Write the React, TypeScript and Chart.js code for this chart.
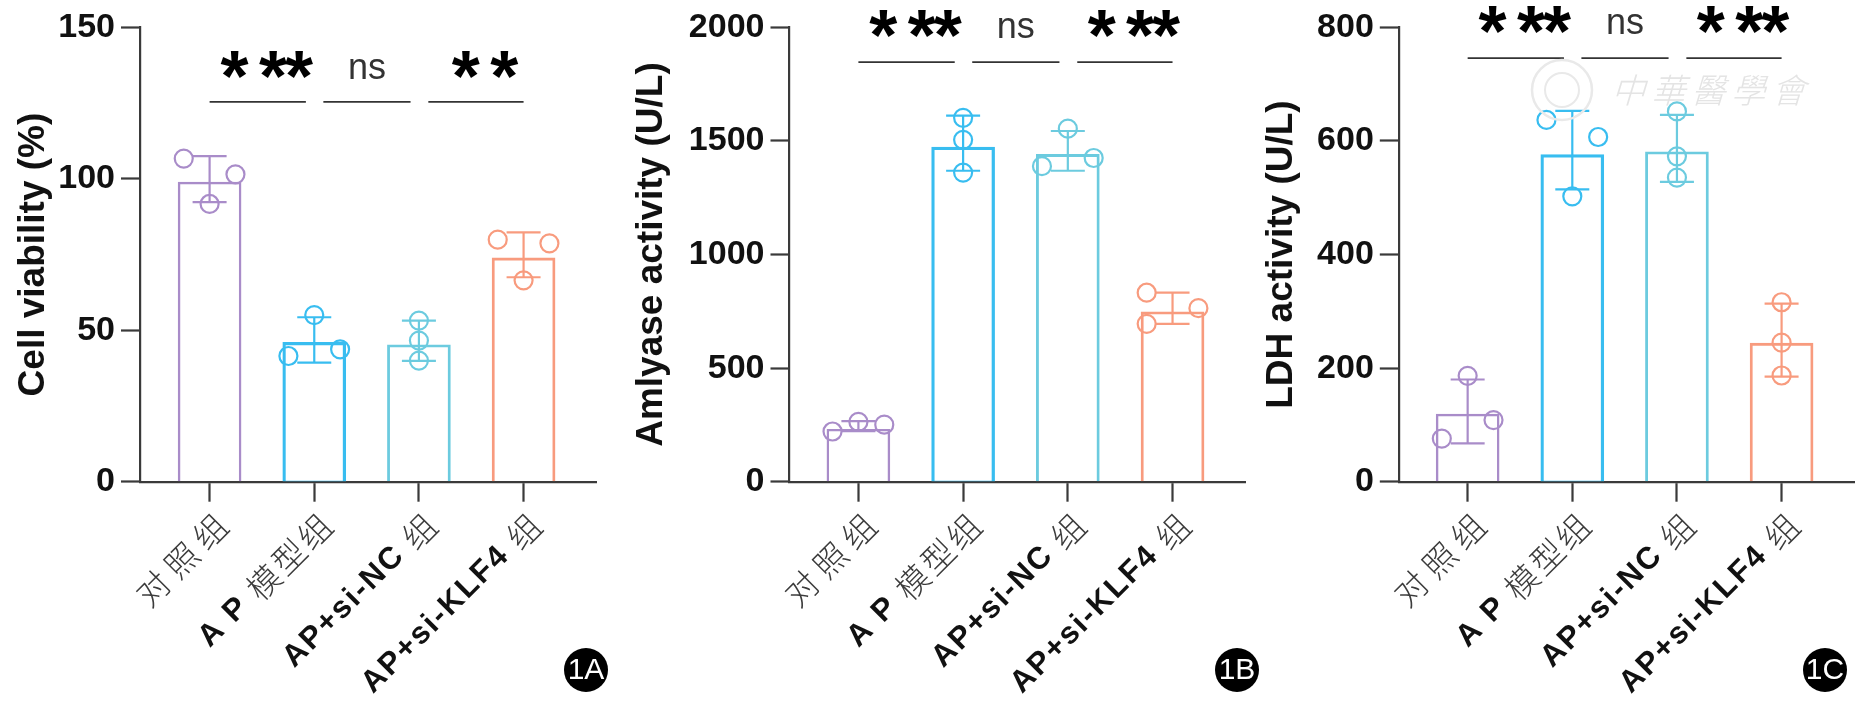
import React, { useEffect, useRef } from "react";
import { Chart, registerables } from "chart.js";

Chart.register(...registerables);

const categories = ["对 照 组", "A P 模型组", "AP+si-NC 组", "AP+si-KLF4 组"];
const groupX = [0, 1, 2, 3];
const groupColors = ["#a98cc9", "#38bdf0", "#6ccbdf", "#f89b7e"];
const barWidths = [1.8, 2.6, 2.2, 2.2];

const meanA = [98.9, 46, 45.2, 73.9];
const upperA = [107.5, 54.3, 53.2, 82.3];
const lowerA = [92.3, 39.3, 39.9, 67.5];
const pointsA = [[106.7, 101.5, 91.7], [55, 41.5, 43.7], [53.2, 46.6, 40], [79.9, 78.7, 66.5]];
const jitterA = [[-0.247, 0.247, 0], [0, -0.247, 0.247], [0, 0, 0], [-0.247, 0.247, 0]];

const meanB = [231, 1473, 1441, 748];
const upperB = [267, 1612, 1544, 832];
const lowerB = [222, 1369, 1369, 695];
const pointsB = [[221, 263, 251], [1602, 1505, 1361], [1554, 1389, 1425], [832, 764, 695]];
const jitterB = [[-0.247, 0, 0.247], [0, 0, 0], [0, -0.247, 0.247], [-0.247, 0.247, -0.247]];

const meanC = [119, 576, 581, 244];
const upperC = [180, 653, 646, 313.6];
const lowerC = [67.5, 514.6, 528, 185];
const pointsC = [[186.5, 76, 108.5], [637, 607, 502.5], [652, 573, 535.5], [316, 245, 187]];
const jitterC = [[0, -0.247, 0.247], [-0.247, 0.247, 0], [0, 0, 0], [0, 0, 0]];

const sigLabelsA = ["*\u2009**", "ns", "*\u2009*"];
const sigLabelsB = ["*\u2009**", "ns", "*\u2009**"];
const sigLabelsC = ["*\u2009**", "ns", "*\u2009**"];
const sigSpans = [[0, 0.92], [1.087, 1.92], [2.09, 3.0]];

const FONT = '"Liberation Sans", Arial, sans-serif';
const CJK = '"Noto Sans CJK SC", sans-serif';
const AXIS = "#3a3a3a";
const CANVAS_W = 650;

type Spec = {
  title: string; max: number; step: number; badge: string;
  mean: number[]; upper: number[]; lower: number[]; points: number[][]; jitter: number[][];
  sig: string[]; sigY: number; sigTextY: number;
  left: number; axisX: number; right: number; xMin: number; xMax: number; titlePad: number;
  badgeX: number; watermark?: boolean;
};

const specs: Spec[] = [
  { title: "Cell viability (%)", max: 150, step: 50, badge: "1A", mean: meanA, upper: upperA, lower: lowerA,
    points: pointsA, jitter: jitterA, sig: sigLabelsA, sigY: 125.4, sigTextY: 136.7,
    left: 0, axisX: 140, right: 54, xMin: -0.665, xMax: 3.692, titlePad: 12, badgeX: 586 },
  { title: "Amlyase activity (U/L)", max: 2000, step: 500, badge: "1B", mean: meanB, upper: upperB, lower: lowerB,
    points: pointsB, jitter: jitterB, sig: sigLabelsB, sigY: 1847, sigTextY: 2000,
    left: 624, axisX: 165.5, right: 29, xMin: -0.658, xMax: 3.692, titlePad: 6, badgeX: 613 },
  { title: "LDH activity (U/L)", max: 800, step: 200, badge: "1C", mean: meanC, upper: upperC, lower: lowerC,
    points: pointsC, jitter: jitterC, sig: sigLabelsC, sigY: 746, sigTextY: 808,
    left: 1248, axisX: 150.8, right: 44, xMin: -0.658, xMax: 3.692, titlePad: 12, badgeX: 577, watermark: true },
];

const isCjk = (r: string) => /[\u4e00-\u9fff]/.test(r);

function drawCategory(ctx: CanvasRenderingContext2D, label: string, x: number, y: number) {
  const runs = label.match(/[\u4e00-\u9fff ]*[\u4e00-\u9fff]|[^\u4e00-\u9fff]+/g) || [];
  const fontOf = (r: string) => (isCjk(r) ? `300 33px ${CJK}` : `bold 31px ${FONT}`);
  const spaceOf = (r: string) => (isCjk(r) ? (r.includes(" ") ? 0 : 3) : 2);
  ctx.save();
  ctx.translate(x, y);
  ctx.rotate((-45 * Math.PI) / 180);
  ctx.textBaseline = "middle";
  ctx.textAlign = "left";
  let total = 0;
  const widths = runs.map((r) => {
    ctx.font = fontOf(r);
    (ctx as any).letterSpacing = `${spaceOf(r)}px`;
    const w = ctx.measureText(r).width;
    total += w;
    return w;
  });
  let cx = -total + spaceOf(runs[runs.length - 1]);
  runs.forEach((r, i) => {
    ctx.font = fontOf(r);
    (ctx as any).letterSpacing = `${spaceOf(r)}px`;
    ctx.fillStyle = isCjk(r) ? "#3c3c3c" : "#111111";
    ctx.fillText(r, cx, 0);
    cx += widths[i];
  });
  ctx.restore();
}

const makeConfig = (s: Spec): any => {
  const bars = {
    type: "bar",
    data: s.mean.map((v, i) => ({ x: groupX[i], y: v })),
    backgroundColor: "rgba(255,255,255,0)",
    borderColor: groupColors,
    borderWidth: barWidths,
    barThickness: 63,
    clip: false,
  };
  const errors = groupX.map((x, i) => ({
    type: "scatter",
    showLine: true,
    data: [{ x, y: s.lower[i] }, { x, y: s.upper[i] }],
    borderColor: groupColors[i],
    borderWidth: 2.2,
    pointStyle: "line",
    pointRadius: 17,
    pointBorderWidth: 2.2,
    pointBorderColor: groupColors[i],
    clip: false,
  }));
  const dots = {
    type: "scatter",
    data: s.points.flatMap((vals, i) => vals.map((v, j) => ({ x: groupX[i] + s.jitter[i][j], y: v }))),
    pointStyle: "circle",
    pointRadius: 9,
    pointBorderWidth: 2.2,
    pointBackgroundColor: "rgba(255,255,255,0)",
    pointBorderColor: s.points.flatMap((vals, i) => vals.map(() => groupColors[i])),
    clip: false,
  };
  const brackets = sigSpans.map(([a, b]) => ({
    type: "scatter",
    showLine: true,
    data: [{ x: a, y: s.sigY }, { x: b, y: s.sigY }],
    borderColor: "#333333",
    borderWidth: 1.8,
    pointRadius: 0,
    clip: false,
  }));

  const textPlugin = {
    id: "panelText",
    afterDraw(chart: any) {
      const { ctx } = chart;
      const xs = chart.scales.x;
      const ys = chart.scales.y;
      const axisY = ys.getPixelForValue(0);
      categories.forEach((c, i) => drawCategory(ctx, c, xs.getPixelForValue(groupX[i]) + 12, axisY + 38));

      ctx.save();
      ctx.textAlign = "center";
      s.sig.forEach((t, i) => {
        const [a, b] = sigSpans[i];
        const cx = (xs.getPixelForValue(a) + xs.getPixelForValue(b)) / 2;
        const isNs = t === "ns";
        ctx.textBaseline = isNs ? "middle" : "alphabetic";
        ctx.font = isNs ? `normal 36px ${FONT}` : `bold 72px ${FONT}`;
        (ctx as any).letterSpacing = isNs ? "0px" : "-2px";
        ctx.fillStyle = isNs ? "#333333" : "#000000";
        const y = ys.getPixelForValue(s.sigTextY);
        ctx.fillText(t, isNs ? cx : cx + 8, isNs ? y + 1 : y + 33);
      });
      ctx.restore();

      ctx.save();
      ctx.beginPath();
      ctx.arc(s.badgeX, 670, 22, 0, Math.PI * 2);
      ctx.fillStyle = "#000000";
      ctx.fill();
      ctx.fillStyle = "#ffffff";
      ctx.font = `normal 30px ${FONT}`;
      ctx.textAlign = "center";
      ctx.textBaseline = "middle";
      ctx.fillText(s.badge, s.badgeX, 671);
      ctx.restore();

      if (s.watermark) {
        ctx.save();
        ctx.strokeStyle = "#e9e9e9";
        ctx.lineWidth = 2.5;
        ctx.beginPath();
        ctx.arc(314, 90, 30, 0, Math.PI * 2);
        ctx.stroke();
        ctx.lineWidth = 2;
        ctx.beginPath();
        ctx.arc(314, 90, 17, 0, Math.PI * 2);
        ctx.stroke();
        ctx.translate(367, 90);
        ctx.transform(1, 0, -0.3, 1, 0, 0);
        ctx.fillStyle = "#e4e4e4";
        ctx.font = `300 34px ${CJK}`;
        (ctx as any).letterSpacing = "6px";
        ctx.textBaseline = "middle";
        ctx.textAlign = "left";
        ctx.fillText("中華醫學會", 0, 0);
        ctx.restore();
      }
    },
  };

  return {
    type: "bar",
    data: { datasets: [bars, ...errors, dots, ...brackets] },
    plugins: [textPlugin],
    options: {
      animation: false,
      responsive: false,
      devicePixelRatio: 1,
      layout: { autoPadding: false, padding: { top: 27.4, right: s.right, bottom: 0, left: 0 } },
      events: [],
      plugins: { legend: { display: false }, tooltip: { enabled: false }, title: { display: false } },
      scales: {
        x: {
          type: "linear",
          min: s.xMin,
          max: s.xMax,
          offset: false,
          afterBuildTicks(scale: any) { scale.ticks = groupX.map((value) => ({ value })); },
          afterFit(scale: any) { scale.height = 234.3; },
          grid: { offset: false, drawOnChartArea: false, drawTicks: true, tickLength: 20, tickWidth: 2.2, tickColor: AXIS },
          border: { display: true, color: AXIS, width: 2.2 },
          ticks: { display: false },
        },
        y: {
          min: 0,
          max: s.max,
          afterFit(scale: any) { scale.width = s.axisX; },
          grid: { drawOnChartArea: false, drawTicks: true, tickLength: 19, tickWidth: 2.2, tickColor: AXIS },
          border: { display: true, color: AXIS, width: 2.2 },
          title: { display: true, text: s.title, color: "#111111", font: { family: FONT, size: 37, weight: "bold" }, padding: { top: s.titlePad, bottom: 0 } },
          ticks: { stepSize: s.step, padding: 6, color: "#111111", font: { family: FONT, size: 34, weight: "bold" }, callback: (v: number) => String(v) },
        },
      },
    },
  };
};

function Panel({ spec }: { spec: Spec }) {
  const ref = useRef<HTMLCanvasElement>(null);
  useEffect(() => {
    const chart = new Chart(ref.current!, makeConfig(spec));
    return () => chart.destroy();
  }, [spec]);
  return (
    <div style={{ position: "absolute", left: spec.left, top: 0, width: CANVAS_W, height: 716 }}>
      <canvas ref={ref} width={CANVAS_W} height={716} />
    </div>
  );
}

export default function App() {
  return (
    <div style={{ position: "absolute", left: 0, top: 0, width: 1873, height: 716, background: "#ffffff", overflow: "hidden" }}>
      {specs.map((s) => <Panel key={s.badge} spec={s} />)}
    </div>
  );
}
